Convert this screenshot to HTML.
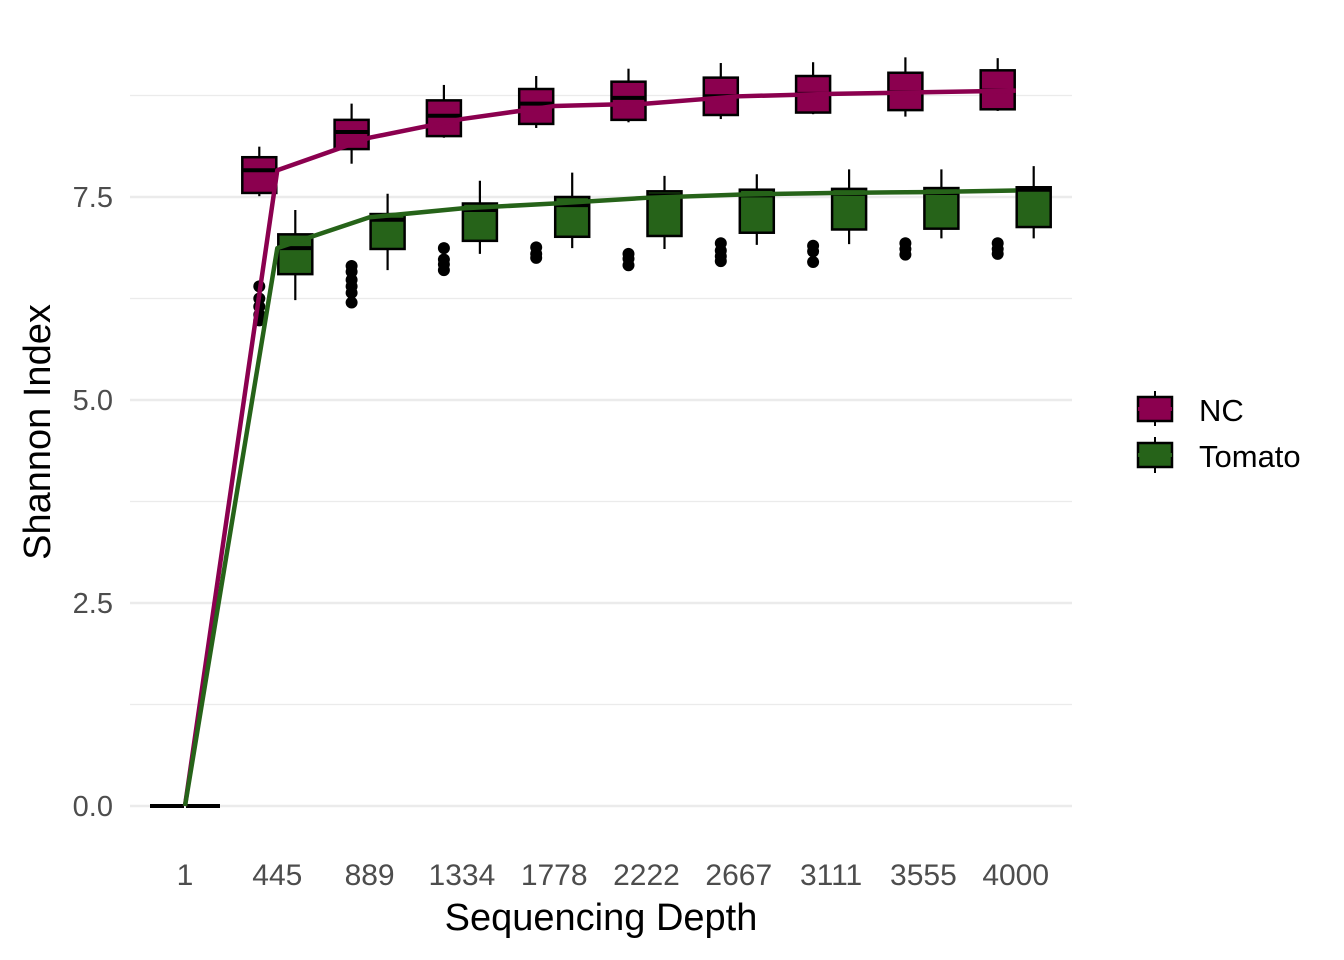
<!DOCTYPE html>
<html><head><meta charset="utf-8"><style>
body{margin:0;background:#fff;}
svg{display:block;font-family:"Liberation Sans",sans-serif;}
</style></head><body>
<svg id="chart" width="1344" height="960">
<g id="grid"></g>
<g id="marks"></g>
<g id="axes"></g>
<text x="601" y="930" font-size="38" text-anchor="middle" fill="#000">Sequencing Depth</text>
<text transform="translate(50,432) rotate(-90)" font-size="38" text-anchor="middle" fill="#000">Shannon Index</text>
<g>
 <g>
  <line x1="1155" y1="391" x2="1155" y2="426" stroke="#000" stroke-width="2"/>
  <rect x="1138" y="397" width="34" height="24" fill="#8b004f" stroke="#000" stroke-width="2.5"/>
  <line x1="1138" y1="409" x2="1172" y2="409" stroke="#8b004f" stroke-width="4"/>
  <text x="1199" y="421" font-size="31">NC</text>
 </g>
 <g>
  <line x1="1155" y1="437" x2="1155" y2="473" stroke="#000" stroke-width="2"/>
  <rect x="1138" y="443" width="34" height="24" fill="#266319" stroke="#000" stroke-width="2.5"/>
  <line x1="1138" y1="455" x2="1172" y2="455" stroke="#266319" stroke-width="4"/>
  <text x="1199" y="467" font-size="31">Tomato</text>
 </g>
</g>
</svg>
<script>
const categories = ["1","445","889","1334","1778","2222","2667","3111","3555","4000"];
const ncWhiskerHigh = [0,8.12,8.65,8.88,8.99,9.08,9.15,9.16,9.22,9.21];
const ncQ3 = [0,7.99,8.45,8.69,8.83,8.92,8.97,8.99,9.03,9.06];
const ncMedian = [0,7.83,8.30,8.50,8.65,8.72,8.74,8.77,8.79,8.81];
const ncQ1 = [0,7.55,8.09,8.25,8.40,8.45,8.51,8.54,8.57,8.58];
const ncWhiskerLow = [0,7.51,7.91,8.23,8.35,8.42,8.46,8.52,8.49,8.56];
const ncMean = [0,7.83,8.23,8.46,8.62,8.65,8.74,8.77,8.79,8.81];
const ncOutliers = [[],[6.4,6.25,6.15,6.05,5.98],[6.65,6.58,6.48,6.40,6.32,6.20],[6.87,6.73,6.67,6.60],[6.88,6.80,6.75],[6.80,6.74,6.66],[6.93,6.84,6.77,6.71],[6.90,6.83,6.70],[6.93,6.86,6.79],[6.93,6.86,6.80]];
const tomWhiskerHigh = [0,7.34,7.54,7.70,7.80,7.76,7.78,7.84,7.84,7.88];
const tomQ3 = [0,7.04,7.29,7.42,7.50,7.57,7.59,7.60,7.61,7.62];
const tomMedian = [0,6.87,7.22,7.34,7.40,7.52,7.52,7.54,7.55,7.59];
const tomQ1 = [0,6.55,6.86,6.96,7.01,7.02,7.06,7.10,7.11,7.13];
const tomWhiskerLow = [0,6.23,6.60,6.80,6.87,6.86,6.91,6.92,6.99,6.99];
const tomMean = [0,6.87,7.25,7.36,7.42,7.49,7.53,7.55,7.56,7.58];
const yTicks = [0,2.5,5.0,7.5];
const yMinor = [1.25,3.75,6.25,8.75];

const NS="http://www.w3.org/2000/svg";
const xPos = i => 185 + i*92.3;
const yPos = v => 806 - v*81.2;
function mk(tag, attrs, parent){const e=document.createElementNS(NS,tag);for(const k in attrs)e.setAttribute(k,attrs[k]);parent.appendChild(e);return e;}
const grid=document.getElementById('grid'), marks=document.getElementById('marks'), axes=document.getElementById('axes');
yMinor.forEach(v=>{const l=mk('line',{x1:130,x2:1072,y1:yPos(v),y2:yPos(v),stroke:'#ebebeb','stroke-width':1.3},grid);

});
yTicks.forEach(v=>{const l=mk('line',{x1:130,x2:1072,y1:yPos(v),y2:yPos(v),stroke:'#ebebeb','stroke-width':2.6},grid);


const t=mk('text',{x:113,y:yPos(v)+10,'font-size':29,'text-anchor':'end',fill:'#4d4d4d'},axes);t.textContent=v.toFixed(1);

});
categories.forEach((c,i)=>{const t=mk('text',{x:xPos(i),y:885,'font-size':30,'text-anchor':'middle',fill:'#4d4d4d'},axes);t.textContent=c;

});
function drawBoxes(wh,q3,med,q1,wl,outs,off,color,name){
 categories.forEach((c,i)=>{
  const cx=xPos(i)+off;const g=mk('g',{},marks);
  
  
  mk('line',{x1:cx,x2:cx,y1:yPos(wh[i]),y2:yPos(wl[i]),stroke:'#000','stroke-width':2.2},g);
  const h=Math.max(yPos(q1[i])-yPos(q3[i]),0);
  mk('rect',{x:cx-17,y:yPos(q3[i]),width:34,height:h,fill:color,stroke:'#000','stroke-width':2.5},g);
  mk('line',{x1:cx-17,x2:cx+17,y1:yPos(med[i]),y2:yPos(med[i]),stroke:'#000','stroke-width':4},g);
  outs[i].forEach(v=>{const p=mk('circle',{cx:cx,cy:yPos(v),r:6,fill:'#000'},g);
   
   });
 });
}
drawBoxes(ncWhiskerHigh,ncQ3,ncMedian,ncQ1,ncWhiskerLow,ncOutliers,-18,'#8b004f','nc');
drawBoxes(tomWhiskerHigh,tomQ3,tomMedian,tomQ1,tomWhiskerLow,categories.map(()=>[]),18,'#266319','tomato');
function drawLine(vals,color,name){
 const p=mk('polyline',{points:vals.map((v,i)=>xPos(i)+','+yPos(v)).join(' '),fill:'none',stroke:color,'stroke-width':4.5,'stroke-linejoin':'round'},marks);
 
 
}
drawLine(ncMean,'#8b004f','nc-mean-line');
drawLine(tomMean,'#266319','tomato-mean-line');
</script>
</body></html>
